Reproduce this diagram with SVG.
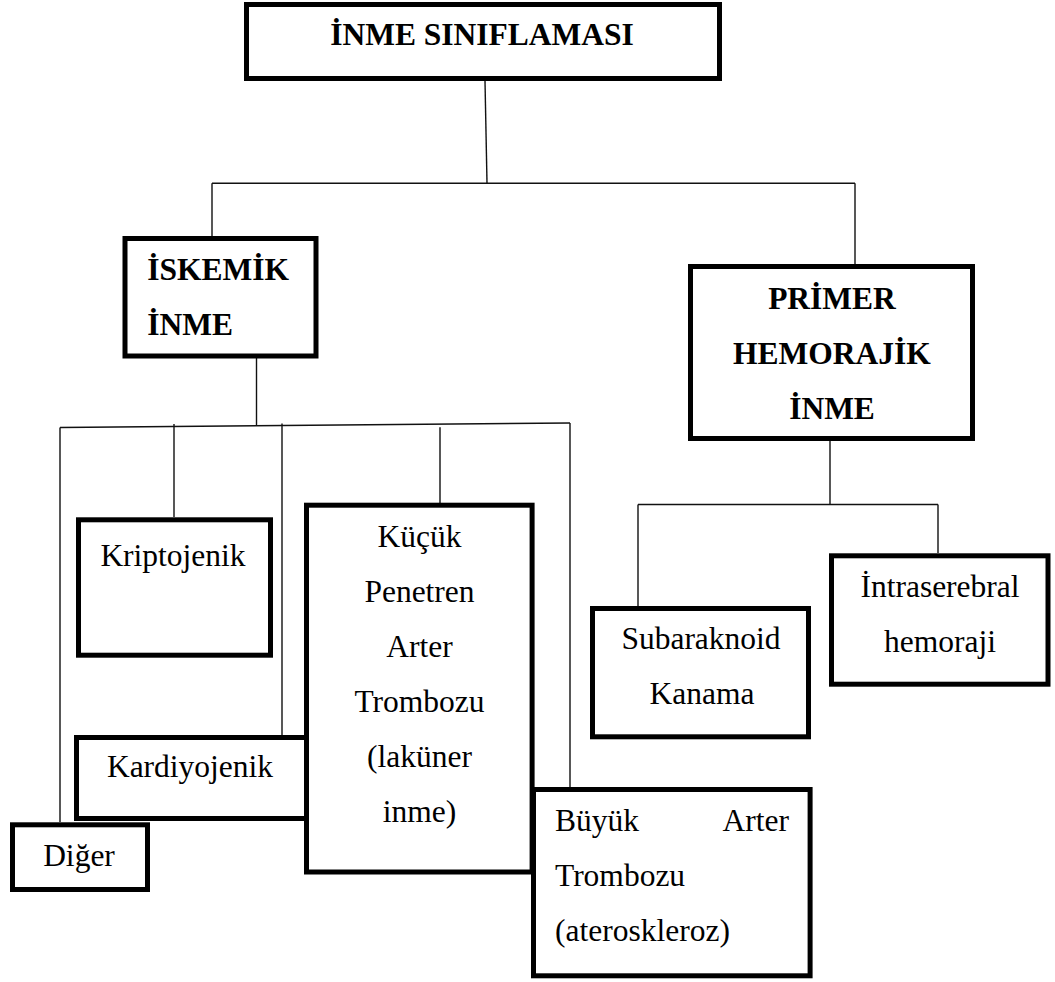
<svg xmlns="http://www.w3.org/2000/svg" width="1055" height="982" viewBox="0 0 1055 982">
<style>
.box{fill:#fff;stroke:#000;stroke-width:5}
.t{font-family:"Liberation Serif","Times New Roman",serif;font-size:31.5px;fill:#000}
.b{font-weight:bold}
.m{text-anchor:middle}
.e{text-anchor:end}
#connectors path{fill:none;stroke:#111;stroke-width:1.4}
</style>
<rect width="1055" height="982" fill="#fff"/>
<g id="connectors">
<path d="M485,81 L487,183.3"/>
<path d="M212,183.3 H855"/>
<path d="M212,183.3 V236"/>
<path d="M855,183.3 V264"/>
<path d="M256.5,358 V426"/>
<path d="M60,427.5 L570,423"/>
<path d="M60,427.5 V822"/>
<path d="M174,424 V517"/>
<path d="M282,423.5 V735"/>
<path d="M440,427.3 V503"/>
<path d="M570,423 V787"/>
<path d="M830,441 V504.5"/>
<path d="M638,504.5 H938"/>
<path d="M638,504.5 V606"/>
<path d="M938,504.5 V553"/>
</g>
<g id="inme-siniflamasi">
<rect class="box" x="246.5" y="4.5" width="473" height="74"/>
<text class="t b m" x="482" y="45">İNME SINIFLAMASI</text>
</g>
<g id="iskemik-inme">
<rect class="box" x="125" y="238.5" width="191" height="117.5"/>
<text class="t b" x="147.3" y="279.5">İSKEMİK</text>
<text class="t b" x="147.3" y="334.5">İNME</text>
</g>
<g id="primer-hemorajik-inme">
<rect class="box" x="690.5" y="266.5" width="282" height="172"/>
<text class="t b m" x="832" y="309">PRİMER</text>
<text class="t b m" x="832" y="364">HEMORAJİK</text>
<text class="t b m" x="832" y="419">İNME</text>
</g>
<g id="kriptojenik">
<rect class="box" x="78.5" y="519.8" width="192" height="135.4"/>
<text class="t m" x="173" y="566">Kriptojenik</text>
</g>
<g id="kardiyojenik">
<rect class="box" x="76.5" y="737.5" width="240" height="81"/>
<text class="t m" x="190" y="777">Kardiyojenik</text>
</g>
<g id="diger">
<rect class="box" x="12.5" y="824.8" width="135" height="64.7"/>
<text class="t m" x="79" y="866">Diğer</text>
</g>
<g id="kucuk-penetren">
<rect class="box" x="306.5" y="505.2" width="225.6" height="366.8"/>
<text class="t m" x="419.5" y="546.7">Küçük</text>
<text class="t m" x="419.5" y="601.7">Penetren</text>
<text class="t m" x="419.5" y="656.7">Arter</text>
<text class="t m" x="419.5" y="711.7">Trombozu</text>
<text class="t m" x="419.5" y="766.7">(laküner</text>
<text class="t m" x="419.5" y="821.7">inme)</text>
</g>
<g id="buyuk-arter">
<rect class="box" x="533.5" y="789.5" width="276.6" height="186.3"/>
<text class="t" x="555" y="831">Büyük</text>
<text class="t e" x="789" y="831">Arter</text>
<text class="t" x="555" y="886">Trombozu</text>
<text class="t" x="555" y="941">(ateroskleroz)</text>
</g>
<g id="subaraknoid">
<rect class="box" x="592.5" y="608.5" width="216" height="128.3"/>
<text class="t m" x="701" y="648.5">Subaraknoid</text>
<text class="t m" x="702" y="703.5">Kanama</text>
</g>
<g id="intraserebral">
<rect class="box" x="831.5" y="555.8" width="216.5" height="128.4"/>
<text class="t m" x="940" y="597">İntraserebral</text>
<text class="t m" x="940" y="652">hemoraji</text>
</g>
</svg>
